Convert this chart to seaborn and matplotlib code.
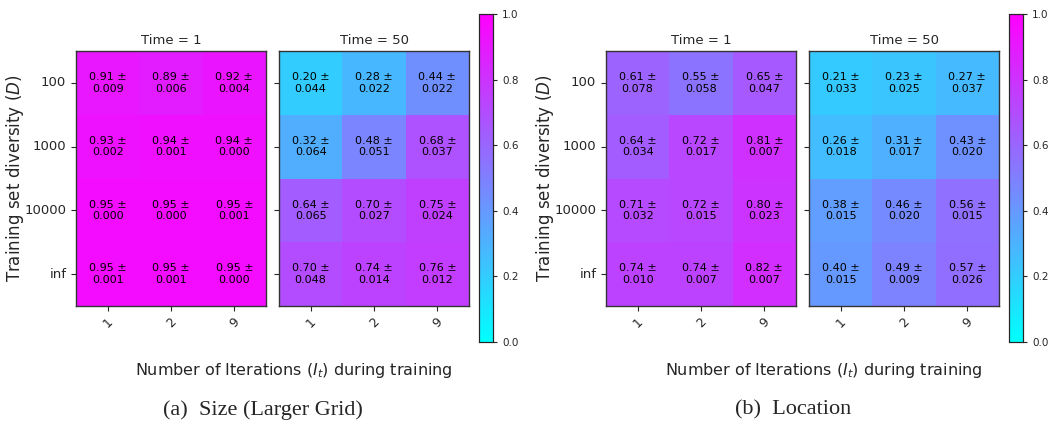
import numpy as np
import matplotlib
matplotlib.use('Agg')
import matplotlib.pyplot as plt
import seaborn as sns

diversity = ['100', '1000', '10000', 'inf']
iterations = ['1', '2', '9']
times = ['Time = 1', 'Time = 50']

# (a) Size (Larger Grid)
size_t1_mean = [[0.91, 0.89, 0.92], [0.93, 0.94, 0.94], [0.95, 0.95, 0.95], [0.95, 0.95, 0.95]]
size_t1_std = [[0.009, 0.006, 0.004], [0.002, 0.001, 0.000], [0.000, 0.000, 0.001], [0.001, 0.001, 0.000]]
size_t50_mean = [[0.20, 0.28, 0.44], [0.32, 0.48, 0.68], [0.64, 0.70, 0.75], [0.70, 0.74, 0.76]]
size_t50_std = [[0.044, 0.022, 0.022], [0.064, 0.051, 0.037], [0.065, 0.027, 0.024], [0.048, 0.014, 0.012]]

# (b) Location
loc_t1_mean = [[0.61, 0.55, 0.65], [0.64, 0.72, 0.81], [0.71, 0.72, 0.80], [0.74, 0.74, 0.82]]
loc_t1_std = [[0.078, 0.058, 0.047], [0.034, 0.017, 0.007], [0.032, 0.015, 0.023], [0.010, 0.007, 0.007]]
loc_t50_mean = [[0.21, 0.23, 0.27], [0.26, 0.31, 0.43], [0.38, 0.46, 0.56], [0.40, 0.49, 0.57]]
loc_t50_std = [[0.033, 0.025, 0.037], [0.018, 0.017, 0.020], [0.015, 0.020, 0.015], [0.015, 0.009, 0.026]]

panels = [
    ('(a)  Size (Larger Grid)', [(size_t1_mean, size_t1_std), (size_t50_mean, size_t50_std)]),
    ('(b)  Location', [(loc_t1_mean, loc_t1_std), (loc_t50_mean, loc_t50_std)]),
]

sns.set_style('ticks')
plt.rcParams['font.family'] = ['DejaVu Sans']

W, H = 1056, 428
fig = plt.figure(figsize=(W / 100, H / 100), dpi=100)


def box(x0, y0, x1, y1):
    # pixel box (top-left origin) -> figure fraction rect
    return [x0 / W, 1 - y1 / H, (x1 - x0) / W, (y1 - y0) / H]


offsets = [0, 530]
for (caption, maps), off in zip(panels, offsets):
    hm_boxes = [box(off + 76, 51, off + 266, 306), box(off + 279, 51, off + 469, 306)]
    cax = fig.add_axes(box(off + 479, 14, off + 493, 342))
    for k, ((mean, std), title) in enumerate(zip(maps, times)):
        ax = fig.add_axes(hm_boxes[k])
        m = np.array(mean)
        s = np.array(std)
        labels = np.array([[f'{m[i, j]:.2f} ±\n{s[i, j]:.3f}' for j in range(3)] for i in range(4)])
        sns.heatmap(m, ax=ax, cmap='cool', vmin=0, vmax=1, annot=labels, fmt='',
                    annot_kws={'fontsize': 8, 'color': 'black'},
                    cbar=(k == 1), cbar_ax=cax if k == 1 else None,
                    xticklabels=iterations, yticklabels=diversity if k == 0 else False)
        for sp in ax.spines.values():
            sp.set_visible(True)
            sp.set_color('#333333')
            sp.set_linewidth(1.0)
        ax.set_title(title, fontsize=9.5, pad=5)
        ax.tick_params(axis='x', labelsize=9, rotation=45, length=3.5)
        ax.tick_params(axis='y', labelsize=9.5, rotation=0, length=3.5)
        if k == 1:
            ax.set_yticks(np.arange(4) + 0.5)
            ax.set_yticklabels([])
        else:
            ax.set_ylabel('Training set diversity ($D$)', fontsize=12, labelpad=-1)
    cax.tick_params(labelsize=7.5, length=3)
    for sp in cax.spines.values():
        sp.set_visible(True)
        sp.set_linewidth(0.8)
    fig.text((off + 294) / W, 1 - 370 / H, 'Number of Iterations ($I_t$) during training',
             ha='center', va='center', fontsize=11.5)
    fig.text((off + 263) / W, 1 - 410 / H, caption,
             ha='center', va='center', fontsize=16, family='Liberation Serif')

fig.savefig('out.png', dpi=100)
